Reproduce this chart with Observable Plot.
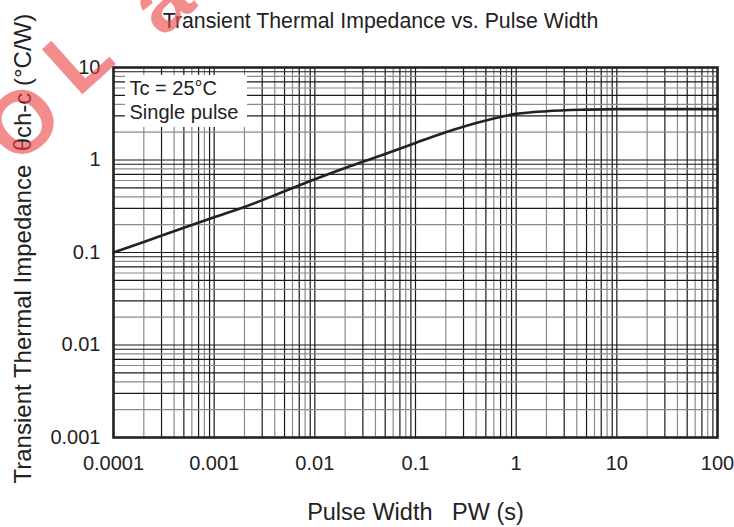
<!DOCTYPE html>
<html>
<head>
<meta charset="utf-8">
<script src="https://cdn.jsdelivr.net/npm/d3@7"></script>
<script src="https://cdn.jsdelivr.net/npm/@observablehq/plot@0.6"></script>
<style>
  html, body { margin: 0; padding: 0; background: #fff; }
  #wrap { position: relative; width: 734px; height: 527px; overflow: hidden; }
  .wm { position: absolute; pointer-events: none; font: bold 88px/1 "Liberation Sans", Arial, sans-serif;
        color: rgba(235,70,70,0.62); transform: translate(-50%, -50%) rotate(-42deg); }
</style>
</head>
<body>
<div id="wrap"><div id="chart"></div>
  <div class="wm" style="left:-38px; top:192px">S</div>
  <div class="wm" style="left:22px; top:122px">O</div>
  <div class="wm" style="left:78px; top:58px">L</div>
  <div class="wm" style="left:160px; top:0px">a</div>
</div>
<script>
// Data
const pulseWidth = [0.0001, 0.0002, 0.0005, 0.001, 0.002, 0.005, 0.01, 0.02, 0.05, 0.1, 0.2, 0.5, 1, 2, 5, 10, 100];
const impedance  = [0.10, 0.13, 0.185, 0.24, 0.31, 0.46, 0.62, 0.82, 1.16, 1.53, 2.0, 2.68, 3.15, 3.37, 3.5, 3.55, 3.55];

const xTicks = [0.0001, 0.001, 0.01, 0.1, 1, 10, 100];
const xTickLabels = ["0.0001", "0.001", "0.01", "0.1", "1", "10", "100"];
const yTicks = [0.001, 0.01, 0.1, 1, 10];
const yTickLabels = ["0.001", "0.01", "0.1", "1", "10"];

const titleText = "Transient Thermal Impedance vs. Pulse Width";
const xLabel = "Pulse Width   PW (s)";
const yLabel = "Transient Thermal Impedance  \u03B8ch-c (\u00B0C/W)";
const noteLines = ["Tc = 25\u00B0C", "Single pulse"];
// note box extents in data space
const noteBox = [{x1: 1.315e-4, x2: 2.14e-3, y1: 2.25, y2: 8.2}];

// grid positions: every 1..9 multiple within each decade
function gridValues(lo, hi) {
  const out = [];
  for (let e = lo; e < hi; e++) for (let k = 1; k <= 9; k++) out.push({v: k * 10 ** e, k});
  out.push({v: 10 ** hi, k: 1});
  return out;
}
const xGrid = gridValues(-4, 2);
const yGrid = gridValues(-3, 1);
const gridColor = d => (d.k % 2 === 0 ? "#8a8a8a" : "#1a1a1a");

const xLabelMap = new Map(xTicks.map((t, i) => [t, xTickLabels[i]]));
const yLabelMap = new Map(yTicks.map((t, i) => [t, yTickLabels[i]]));

const data = pulseWidth.map((x, i) => ({x, y: impedance[i]}));
const font = "Liberation Sans, Arial, Helvetica, sans-serif";

const chart = Plot.plot({
  width: 734,
  height: 527,
  marginLeft: 113,
  marginRight: 17,
  marginTop: 67,
  marginBottom: 90,
  style: {fontFamily: font, fontSize: "20px", color: "#222", background: "white", overflow: "visible"},
  x: {type: "log", domain: [0.0001, 100]},
  y: {type: "log", domain: [0.001, 10]},
  marks: [
    Plot.ruleX(xGrid, {x: "v", stroke: gridColor, strokeWidth: 1.2}),
    Plot.ruleY(yGrid, {y: "v", stroke: gridColor, strokeWidth: 1.2}),
    Plot.rect(noteBox, {x1: "x1", x2: "x2", y1: "y1", y2: "y2", fill: "white"}),
    Plot.text([noteLines[0]], {frameAnchor: "top-left", dx: 16, dy: 20.6, lineAnchor: "middle", textAnchor: "start", fontSize: 20, fill: "#222"}),
    Plot.text([noteLines[1]], {frameAnchor: "top-left", dx: 16, dy: 44.6, lineAnchor: "middle", textAnchor: "start", fontSize: 20, fill: "#222"}),
    Plot.line(data, {x: "x", y: "y", stroke: "#222", strokeWidth: 2.6, curve: "monotone-x"}),
    Plot.frame({stroke: "#222", strokeWidth: 2.6}),
    Plot.axisX({ticks: xTicks, tickFormat: d => xLabelMap.get(d) ?? "", tickSize: 0, tickPadding: 18, label: null, fontSize: 20}),
    Plot.axisY({ticks: yTicks, tickFormat: d => yLabelMap.get(d) ?? "", tickSize: 0, tickPadding: 13, label: null, fontSize: 20}),
    Plot.text([titleText], {frameAnchor: "top", dx: -35, dy: -46, lineAnchor: "middle", textAnchor: "middle", fontSize: 21.3, fill: "#222"}),
    Plot.text([xLabel], {frameAnchor: "bottom", dy: 75, lineAnchor: "middle", textAnchor: "middle", fontSize: 23.5, fill: "#222"}),
    Plot.text([yLabel], {frameAnchor: "left", dx: -90, dy: 231, rotate: -90, lineAnchor: "middle", textAnchor: "start", fontSize: 24, fill: "#222"})
  ]
});
document.getElementById("chart").appendChild(chart);
</script>
</body>
</html>
